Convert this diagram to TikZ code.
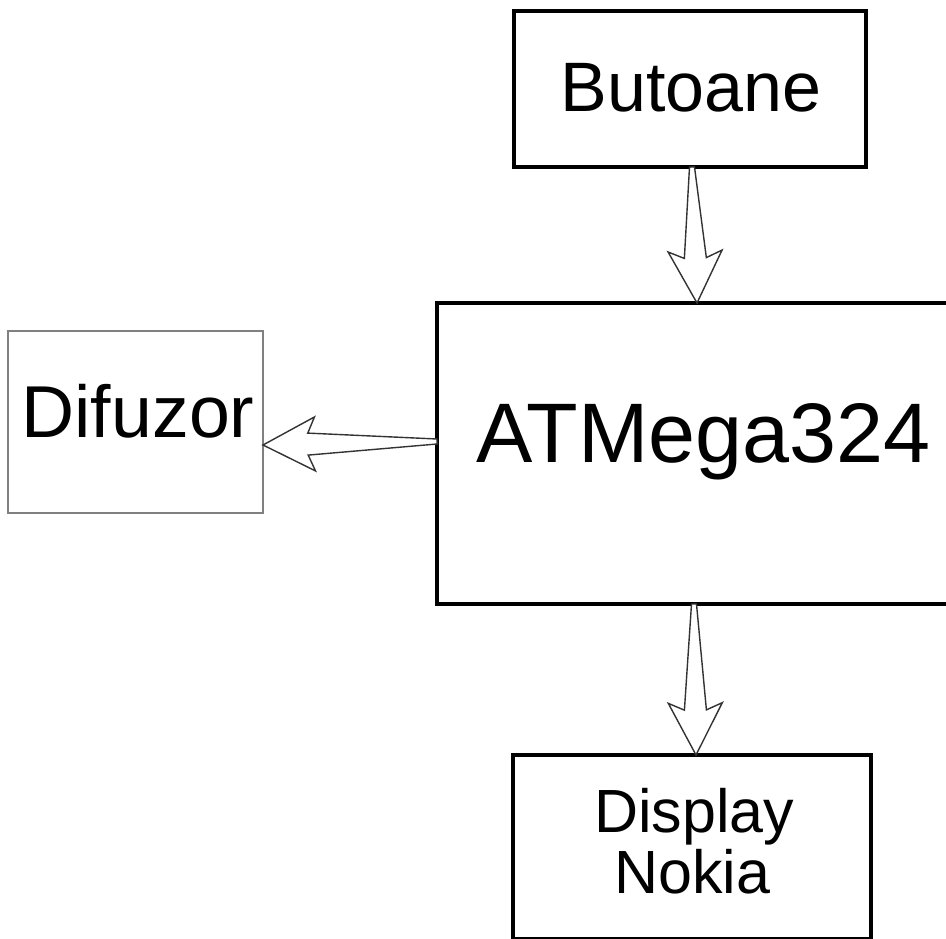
\documentclass[tikz,border=0pt]{standalone}
\usepackage{fontspec}
\setmainfont{Liberation Sans}
\usetikzlibrary{calc}
\tikzset{
  blockbox/.style={draw=black, line width=4pt, fill=white, inner sep=0pt, outer sep=0pt, rectangle},
  graybox/.style={draw=black!50, line width=2.2pt, fill=white, inner sep=0pt, outer sep=0pt, rectangle},
  lbl/.style={inner sep=0pt, outer sep=0pt, anchor=base, text=black},
  arrowline/.style={draw=black!80, line width=1.4pt, fill=white, line join=miter}
}
\newcommand\hollowarrow[2]{%
  \coordinate (hT) at (#1);
  \coordinate (hP) at (#2);
  \coordinate (hJ) at ($(hP)!45pt!(hT)$);
  \coordinate (hB) at ($(hP)!52pt!(hT)$);
  \draw[arrowline] ($(hT)!2.5pt!90:(hP)$) -- ($(hJ)!11pt!90:(hP)$) -- ($(hB)!27pt!90:(hP)$) -- (hP)
     -- ($(hB)!27pt!-90:(hP)$) -- ($(hJ)!11pt!-90:(hP)$) -- ($(hT)!2.5pt!-90:(hP)$) -- cycle;
}
\begin{document}
\begin{tikzpicture}[x=1pt, y=-1pt]
\useasboundingbox (0,0) rectangle (946,939);
\clip (0,0) rectangle (946,939);
\fill[white] (0,0) rectangle (946,939);
% boxes
\node[blockbox, minimum width=352pt, minimum height=156pt] (but) at (690,89) {};
\node[blockbox, minimum width=513pt, minimum height=301pt] (mcu) at (693.5,453.5) {};
\node[graybox, minimum width=255pt, minimum height=182pt] (dif) at (135.5,422) {};
\node[blockbox, minimum width=358pt, minimum height=184pt] (disp) at (692,847) {};
% labels
\node[lbl, font=\fontsize{70}{70}\selectfont] (tbut) at (691,112) {Butoane};
\node[lbl, font=\fontsize{84.5}{84.5}\selectfont] (tmcu) at (703.5,462) {ATMega324};
\node[lbl, font=\fontsize{73.5}{73.5}\selectfont] (tdif) at (138,437) {Difuzor};
\node[lbl, font=\fontsize{61}{61}\selectfont] (tdisp1) at (694,832) {Display};
\node[lbl, font=\fontsize{61}{61}\selectfont] (tdisp2) at (692.5,893) {Nokia};
% connector end points on the boxes
\coordinate (a1t) at (but.south -| 692,0);
\coordinate (a1p) at (mcu.north -| 697,0);
\coordinate (a2t) at (mcu.west |- 0,441.5);
\coordinate (a2p) at (dif.east |- 0,445);
\coordinate (a3t) at (mcu.south -| 694,0);
\coordinate (a3p) at (disp.north -| 696,0);
\hollowarrow{a1t}{a1p}
\hollowarrow{a2t}{a2p}
\hollowarrow{a3t}{a3p}
\end{tikzpicture}
\end{document}
